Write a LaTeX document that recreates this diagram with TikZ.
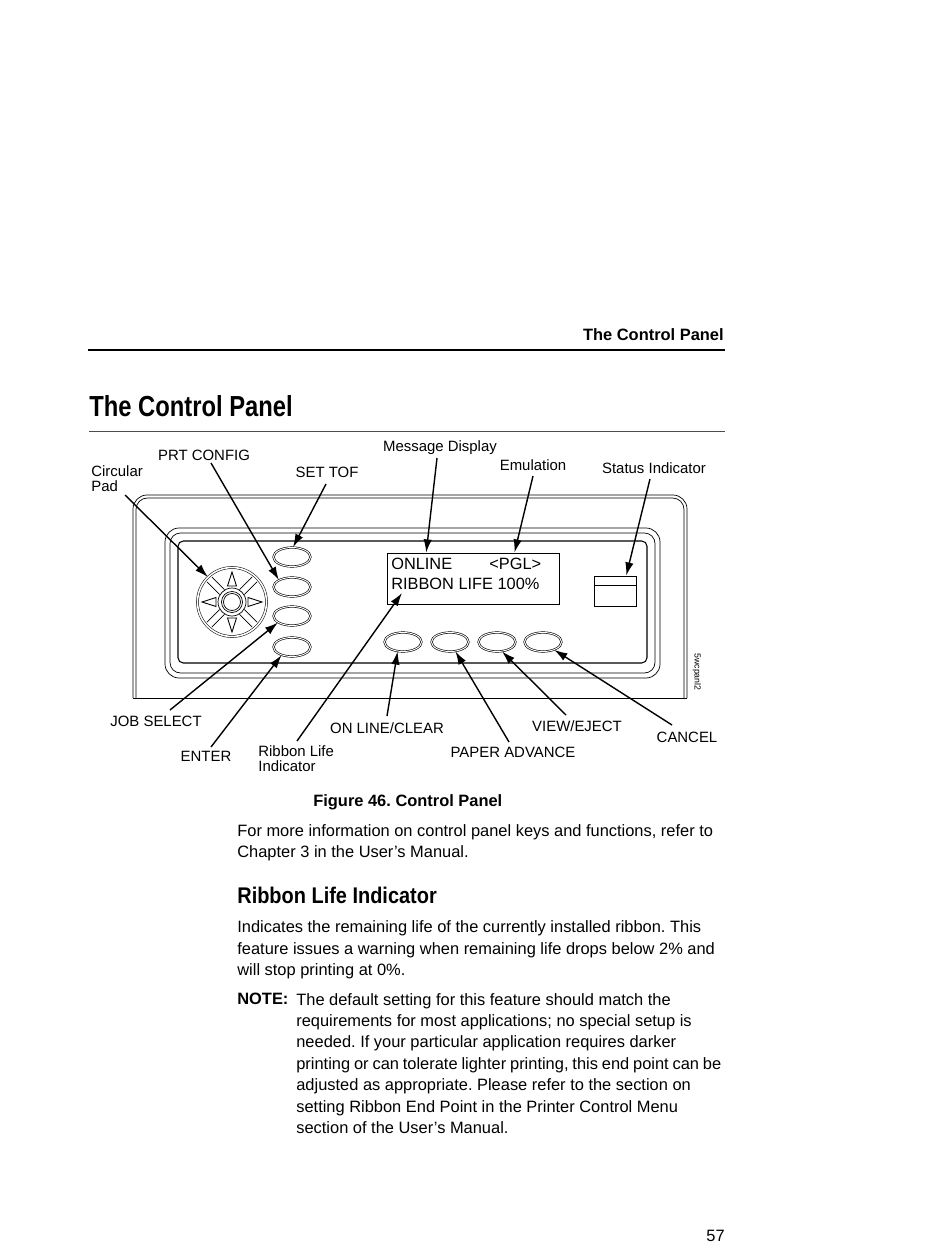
\documentclass[tikz,border=0pt]{standalone}
\usepackage{fontspec}
\setmainfont{Liberation Sans}
\newfontfamily\narrowbold[FakeStretch=0.82]{Liberation Sans Bold}
\newfontfamily\subbold[FakeStretch=0.88]{Liberation Sans Bold}
\frenchspacing
\usetikzlibrary{arrows.meta,shapes.geometric}

\begin{document}
\begin{tikzpicture}[x=0.02cm, y=-0.02cm,
		lbl/.style={inner sep=0pt, align=left, font=\fontsize{8.5}{8.6}\selectfont},
		bodytxt/.style={anchor=north west, inner sep=0pt, align=left, font=\fontsize{9.35}{12.15}\selectfont},
		disptxt/.style={anchor=base west, inner sep=0pt, font=\fontsize{9.3}{11}\selectfont},
		keybtn/.style={draw, ellipse, double, double distance=0.55pt, line width=0.35pt, minimum width=0.74cm, minimum height=0.38cm, inner sep=0pt},
		callout/.style={-{Latex[length=7.5pt,width=4.8pt]}, line width=0.8pt},
		panelline/.style={line width=0.4pt}]
			\useasboundingbox (0,0) rectangle (950,1250);
			
			% page head
			\node[anchor=base east, inner sep=0pt, font=\fontsize{9.35}{11}\bfseries] (head) at (724,340) {The Control Panel};
			\draw[line width=1.1pt] (88,350) -- (725,350);
			\node[anchor=base west, inner sep=0pt, font=\fontsize{16.5}{18}\narrowbold] (title) at (89,416) {The Control Panel};
			\draw[line width=0.3pt, black!70] (89,431) -- (725,431);
			
			% panel outline
			\draw[panelline, rounded corners=8pt] (133,698) -- (133,495) -- (687,495) -- (687,698);
			\draw[panelline, rounded corners=6.5pt] (136,698) -- (136,498) -- (684,498) -- (684,698);
			\draw[panelline] (133,698) -- (687,698);
			\draw[panelline, rounded corners=8pt] (165,528) rectangle (660,678);
			\draw[panelline, rounded corners=6pt] (170,533) rectangle (655,673);
			\draw[line width=0.6pt, rounded corners=3pt] (178,541) rectangle (647,663);
			
			% circular pad
			\node[draw, circle, double, double distance=0.9pt, line width=0.3pt, minimum size=1.38cm, inner sep=0pt] (pad) at (232,602) {};
			\begin{scope}[shift={(232,602)}, line width=0.4pt]
				\draw (0,0) circle (8.5);
				\draw (0,0) circle (10.5);
				\draw (0,0) circle (14);
				\foreach \a in {45,135,225,315} {
					\draw[rotate=\a] (14,3.5) -- (32,3.5) (14,-3.5) -- (32,-3.5);
				}
				\foreach \a in {0,90,180,270} {
					\draw[rotate=\a, line width=0.5pt] (16,-4.5) -- (16,4.5) -- (30,0) -- cycle;
				}
			\end{scope}
			
			% keys
			\foreach \n/\x/\y in {keySet/292/557, keyPrt/292/587, keyJob/292/616, keyEnter/292/647, keyOnline/403/642, keyPaper/450/642, keyView/497/642, keyCancel/543/642} {
				\node[keybtn] (\n) at (\x,\y) {};
			}
			
			% display and status indicator
			\node[draw, line width=0.5pt, minimum width=3.44cm, minimum height=1.02cm, inner sep=0pt] (disp) at (473,578.5) {};
			\node[disptxt] (dispA) at (391,569) {ONLINE};
			\node[disptxt] (dispB) at (489,569) {<PGL>};
			\node[disptxt] (dispC) at (391,589) {RIBBON LIFE 100\%};
			\node[draw, line width=0.5pt, minimum width=0.84cm, minimum height=0.6cm, inner sep=0pt] (status) at (615,591) {};
			\draw[line width=0.4pt] (status.west |- 0,585) -- (status.east |- 0,585);
			\node[rotate=-90, inner sep=0pt, font=\fontsize{5}{6}\selectfont] (code) at (697,672) {5wcpanl2};
			
			% labels
			\node[lbl, anchor=north west] (lblPad) at (91,465) {Circular\\Pad};
			\node[lbl] (lblPrt) at (204,455) {PRT CONFIG};
			\node[lbl] (lblSet) at (327,472) {SET TOF};
			\node[lbl] (lblMsg) at (440,448) {Message Display};
			\node[lbl] (lblEmu) at (533,465) {Emulation};
			\node[lbl] (lblStat) at (654,468) {Status Indicator};
			\node[lbl] (lblJob) at (156,721) {JOB SELECT};
			\node[lbl] (lblEnter) at (206,756) {ENTER};
			\node[lbl, anchor=north west] (lblLife) at (258,745) {Ribbon Life\\Indicator};
			\node[lbl] (lblOnline) at (387,728) {ON LINE/CLEAR};
			\node[lbl] (lblPaper) at (513,752) {PAPER ADVANCE};
			\node[lbl] (lblView) at (577,726) {VIEW/EJECT};
			\node[lbl] (lblCancel) at (687,737) {CANCEL};
			
			% free ends of the callouts
			\coordinate (tPad) at (125,495);
			\coordinate (tPrt) at (211,463);
			\coordinate (tSet) at (326,484);
			\coordinate (tMsg) at (437,458);
			\coordinate (tEmu) at (533,476);
			\coordinate (tStat) at (650,479);
			\coordinate (tJob) at (170,710);
			\coordinate (tEnter) at (211,747);
			\coordinate (tLife) at (297,741);
			\coordinate (tOnline) at (387,716);
			\coordinate (tPaper) at (509,742);
			\coordinate (tView) at (566,715);
			\coordinate (tCancel) at (672,725);
			\coordinate (hLife) at (402,593);
			
			\foreach \s/\e in {tPad/pad.134, tPrt/keyPrt.152, tSet/keySet.84, tMsg/disp.151.5, tEmu/disp.32, tStat/status.54, tJob/keyJob.205, tEnter/keyEnter.218, tLife/hLife, tOnline/keyOnline.240, tPaper/keyPaper.-60, tView/keyView.-62, tCancel/keyCancel.-35} {
				\draw[callout] (\s) -- (\e);
			}
			
			% text below the figure
			\node[anchor=base west, inner sep=0pt, font=\fontsize{9.35}{11}\bfseries] (caption) at (313,806) {Figure 46. Control Panel};
			\node[bodytxt] (para1) at (237,824) {For more information on control panel keys and functions, refer to\\Chapter 3 in the User’s Manual.};
			\node[anchor=base west, inner sep=0pt, font=\fontsize{12.9}{14}\subbold] (sub) at (237,903) {Ribbon Life Indicator};
			\node[bodytxt] (para2) at (237,920.5) {Indicates the remaining life of the currently installed ribbon. This\\feature issues a warning when remaining life drops below 2\% and\\will stop printing at 0\%.};
			\node[bodytxt, font=\fontsize{9.35}{12.15}\bfseries] (note) at (237,993) {NOTE:};
			\node[bodytxt] (para3) at (296,993) {The default setting for this feature should match the\\requirements for most applications; no special setup is\\needed. If your particular application requires darker\\{\spaceskip=2.2pt printing or can tolerate lighter printing, this end point can be}\\adjusted as appropriate. Please refer to the section on\\setting Ribbon End Point in the Printer Control Menu\\section of the User’s Manual.};
			\node[anchor=base east, inner sep=0pt, font=\fontsize{9.35}{11}\selectfont] (page) at (725,1241) {57};
		\end{tikzpicture}
\end{document}
